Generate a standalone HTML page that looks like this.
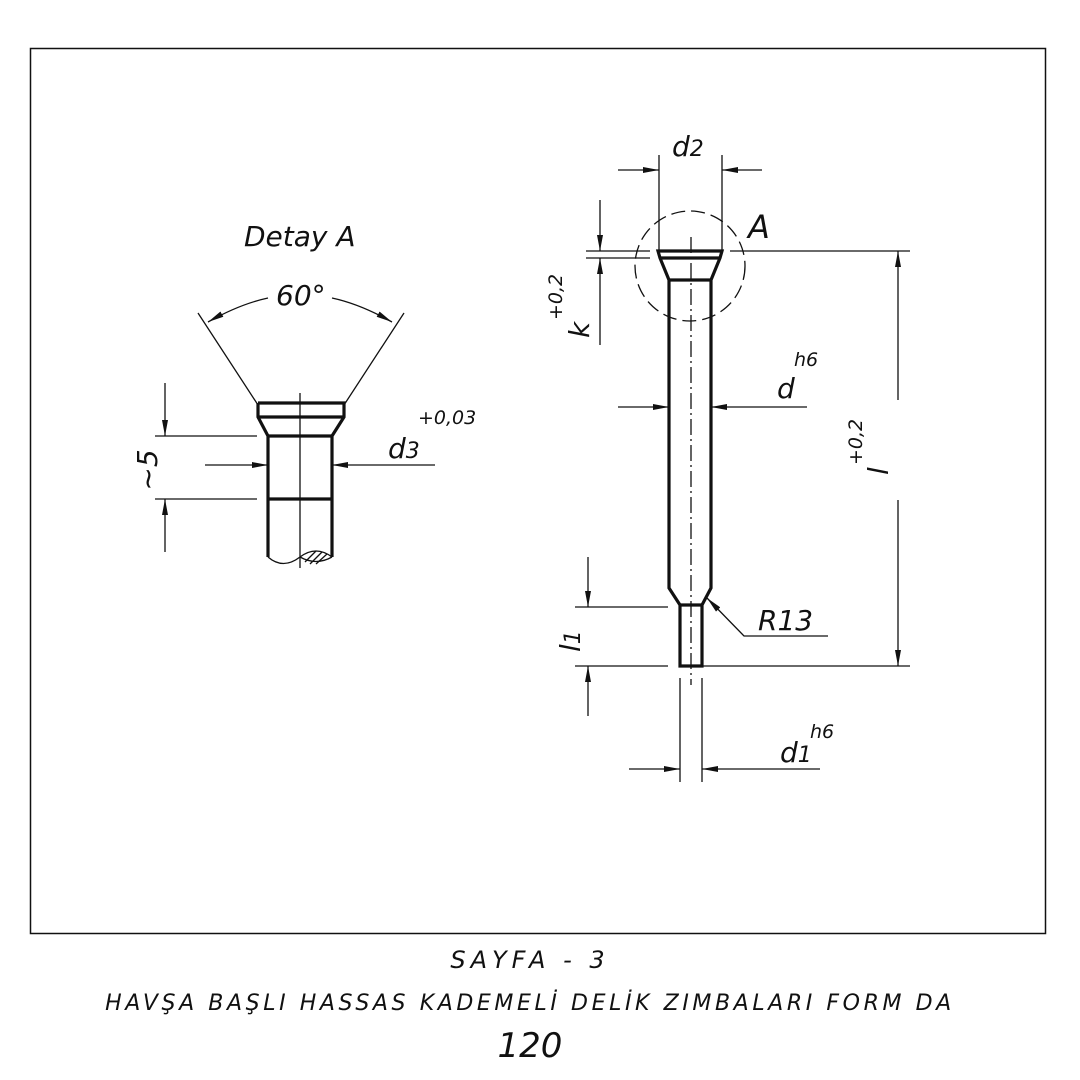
<!DOCTYPE html>
<html><head><meta charset="utf-8"><style>
html,body{margin:0;padding:0;background:#fff}
svg{display:block}
text{font-family:"DejaVu Sans","Liberation Sans",sans-serif;font-style:italic;fill:#111}
</style></head><body>
<svg width="1080" height="1080" viewBox="0 0 1080 1080" xmlns="http://www.w3.org/2000/svg">
<defs>
<marker id="a" viewBox="0 0 16 6" refX="16" refY="3" markerWidth="16" markerHeight="6" orient="auto" markerUnits="userSpaceOnUse"><path d="M0,0 L16,3 L0,6z" fill="#111"/></marker>
</defs>
<rect x="30.5" y="48.5" width="1015" height="885" fill="none" stroke="#111" stroke-width="1.5"/>
<g stroke="#111" fill="none" stroke-width="1.3">
<g stroke-width="3.2">
<path d="M658,251 H722 L720,258 L711,280 V588 L702,605 V666 H680 V605 L669,588 V280 L660,258 Z"/>
<path d="M660,258 H720 M669,280 H711 M680,605 H702"/>
</g>
<path d="M691,237 V685" stroke-dasharray="16,4,2,4"/>
<circle cx="690" cy="266" r="55" stroke-dasharray="14,6"/>
<path d="M659,155 V251 M722,155 V251"/>
<path d="M618,170 H659" marker-end="url(#a)"/>
<path d="M762,170 H722" marker-end="url(#a)"/>
<path d="M586,251 H650 M586,258 H650"/>
<path d="M600,200 V251" marker-end="url(#a)"/>
<path d="M600,345 V258" marker-end="url(#a)"/>
<path d="M618,407 H669" marker-end="url(#a)"/>
<path d="M807,407 H711" marker-end="url(#a)"/>
<path d="M730,251 H910 M702,666 H910"/>
<path d="M898,400 V251" marker-end="url(#a)"/>
<path d="M898,500 V666" marker-end="url(#a)"/>
<path d="M575,607 H668 M575,666 H668"/>
<path d="M588,557 V607" marker-end="url(#a)"/>
<path d="M588,716 V666" marker-end="url(#a)"/>
<path d="M828,636 H744 L707,598" marker-end="url(#a)"/>
<path d="M680,678 V782 M702,678 V782"/>
<path d="M629,769 H680" marker-end="url(#a)"/>
<path d="M820,769 H702" marker-end="url(#a)"/>

<g stroke-width="3.2">
<path d="M258,403 H344 V417 L332,436 V557"/>
<path d="M268,557 V436 L258,417 V403"/>
<path d="M258,417 H344 M268,436 H332 M268,499 H332"/>
</g>
<path d="M268,557 Q283,570 300,557 Q316,545 332,557"/>
<path d="M300,557 Q316,566 332,557"/>
<path d="M305,562 L316,551 M310,564 L322,552 M316,564 L327,554"/>
<path d="M300,393 V568"/>
<path d="M258,405 L198,313 M344,405 L404,313"/>
<path d="M268,298 Q240,304 208,322" marker-end="url(#a)"/>
<path d="M332,298 Q360,304 392,322" marker-end="url(#a)"/>
<path d="M155,436 H257 M155,499 H257"/>
<path d="M165,383 V436" marker-end="url(#a)"/>
<path d="M165,552 V499" marker-end="url(#a)"/>
<path d="M205,465 H268" marker-end="url(#a)"/>
<path d="M435,465 H332" marker-end="url(#a)"/>
</g>

<text x="244" y="246" font-size="28">Detay A</text>
<text x="276" y="305" font-size="28">60°</text>
<text x="388" y="458" font-size="28">d<tspan font-size="22">3</tspan></text>
<text x="418" y="424" font-size="19">+0,03</text>
<text transform="translate(157,470) rotate(-90)" font-size="28" text-anchor="middle">~5</text>

<text x="672" y="156" font-size="28">d<tspan font-size="22">2</tspan></text>
<text x="748" y="238" font-size="32">A</text>
<text transform="translate(589,338) rotate(-90)" font-size="28">k</text>
<text transform="translate(562,320) rotate(-90)" font-size="19">+0,2</text>
<text x="777" y="398" font-size="28">d</text>
<text x="794" y="366" font-size="19">h6</text>
<text transform="translate(888,475) rotate(-90)" font-size="28">l</text>
<text transform="translate(862,465) rotate(-90)" font-size="19">+0,2</text>
<text transform="translate(580,652) rotate(-90)" font-size="28">l<tspan font-size="22">1</tspan></text>
<text x="758" y="630" font-size="28">R13</text>
<text x="780" y="762" font-size="28">d<tspan font-size="22">1</tspan></text>
<text x="810" y="738" font-size="19">h6</text>

<text x="530" y="968" font-size="24" text-anchor="middle" letter-spacing="5">SAYFA - 3</text>
<text x="530" y="1010" font-size="22" text-anchor="middle" letter-spacing="3.6">HAVŞA BAŞLI HASSAS KADEMELİ DELİK ZIMBALARI FORM DA</text>
<text x="530" y="1057" font-size="34" text-anchor="middle">120</text>
</svg>
</body></html>
